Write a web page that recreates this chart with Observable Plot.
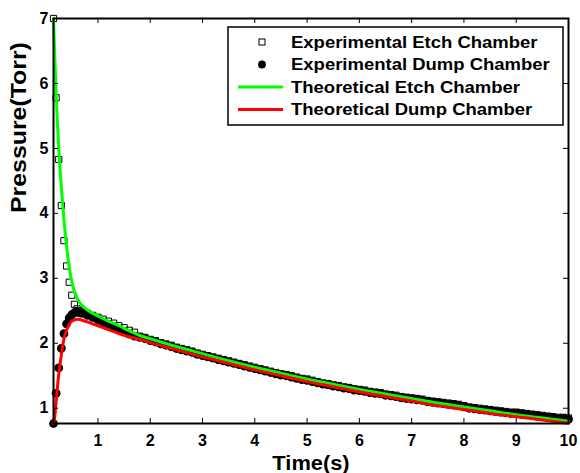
<!DOCTYPE html>
<html>
<head>
<meta charset="utf-8">
<script src="https://cdn.jsdelivr.net/npm/d3@7"></script>
<script src="https://cdn.jsdelivr.net/npm/@observablehq/plot@0.6"></script>
<style>
  body { margin: 0; background: #fff; }
  #wrap { position: relative; width: 580px; height: 473px; overflow: hidden; }
  #wrap svg.overlay { position: absolute; left: 0; top: 0; pointer-events: none; }
</style>
</head>
<body>
<div id="wrap"></div>
<script>
// ---- data ----
const xTicks = [1, 2, 3, 4, 5, 6, 7, 8, 9, 10];
const yTicks = [1, 2, 3, 4, 5, 6, 7];

const expTime = [
  0.15, 0.2, 0.25, 0.3, 0.35, 0.4, 0.45, 0.5, 0.55, 0.6, 0.65, 0.7,
  0.8, 0.9, 1.0, 1.1, 1.2, 1.3, 1.4, 1.5, 1.6, 1.7, 1.8, 1.9,
  2.0, 2.1, 2.2, 2.3, 2.4, 2.5, 2.6, 2.7, 2.8, 2.9,
  3.0, 3.1, 3.2, 3.3, 3.4, 3.5, 3.6, 3.7, 3.8, 3.9,
  4.0, 4.1, 4.2, 4.3, 4.4, 4.5, 4.6, 4.7, 4.8, 4.9,
  5.0, 5.1, 5.2, 5.3, 5.4, 5.5, 5.6, 5.7, 5.8, 5.9,
  6.0, 6.1, 6.2, 6.3, 6.4, 6.5, 6.6, 6.7, 6.8, 6.9,
  7.0, 7.1, 7.2, 7.3, 7.4, 7.5, 7.6, 7.7, 7.8, 7.9,
  8.0, 8.1, 8.2, 8.3, 8.4, 8.5, 8.6, 8.7, 8.8, 8.9,
  9.0, 9.1, 9.2, 9.3, 9.4, 9.5, 9.6, 9.7, 9.8, 9.9,
  10.0
];
const expEtch = [
  7.00, 5.78, 4.83, 4.12, 3.58, 3.19, 2.94, 2.74, 2.60, 2.53, 2.50, 2.48,
  2.46, 2.43, 2.40, 2.37, 2.34, 2.31, 2.27, 2.24, 2.20, 2.17, 2.11, 2.09,
  2.06, 2.04, 2.01, 1.99, 1.97, 1.94, 1.92, 1.90, 1.88, 1.85,
  1.83, 1.81, 1.79, 1.77, 1.75, 1.73, 1.71, 1.69, 1.67, 1.65,
  1.63, 1.61, 1.59, 1.57, 1.55, 1.53, 1.52, 1.50, 1.48, 1.46,
  1.45, 1.43, 1.41, 1.39, 1.38, 1.36, 1.35, 1.33, 1.32, 1.30,
  1.29, 1.28, 1.26, 1.25, 1.24, 1.22, 1.21, 1.20, 1.18, 1.17,
  1.16, 1.15, 1.14, 1.12, 1.11, 1.10, 1.09, 1.08, 1.07, 1.06,
  1.04, 1.02, 1.01, 1.00, 0.99, 0.98, 0.97, 0.96, 0.95, 0.94,
  0.94, 0.93, 0.92, 0.91, 0.90, 0.89, 0.88, 0.87, 0.86, 0.86,
  0.85
];
const expDump = [
  0.765, 1.23, 1.62, 1.92, 2.15, 2.30, 2.39, 2.44, 2.47, 2.48, 2.47, 2.46,
  2.43, 2.40, 2.36, 2.32, 2.29, 2.25, 2.21, 2.18, 2.14, 2.11, 2.09, 2.07,
  2.04, 2.02, 1.99, 1.97, 1.95, 1.92, 1.90, 1.88, 1.86, 1.83,
  1.81, 1.79, 1.77, 1.75, 1.73, 1.71, 1.69, 1.67, 1.65, 1.63,
  1.61, 1.59, 1.57, 1.55, 1.53, 1.51, 1.50, 1.48, 1.46, 1.44,
  1.43, 1.41, 1.39, 1.37, 1.36, 1.34, 1.33, 1.31, 1.30, 1.28,
  1.27, 1.26, 1.24, 1.23, 1.22, 1.20, 1.19, 1.18, 1.16, 1.15,
  1.14, 1.13, 1.12, 1.10, 1.09, 1.08, 1.07, 1.06, 1.05, 1.04,
  1.02, 1.00, 0.99, 0.98, 0.97, 0.96, 0.95, 0.94, 0.93, 0.92,
  0.92, 0.91, 0.90, 0.89, 0.88, 0.87, 0.86, 0.85, 0.84, 0.84,
  0.83
];

const thTime = [0.15, 0.175, 0.2, 0.225, 0.25, 0.275, 0.3, 0.35, 0.4, 0.45, 0.5, 0.55, 0.6, 0.65, 0.7,
  0.8, 0.9, 1.0, 1.2, 1.4, 1.6, 1.8, 2.0, 2.5, 3.0, 3.5, 4.0, 4.5, 5.0, 5.5, 6.0, 6.5, 7.0, 7.5, 8.0, 8.5, 9.0, 9.5, 10.0];
const thEtch = [7.0, 6.4, 5.85, 5.4, 5.0, 4.68, 4.4, 3.9, 3.5, 3.17, 2.95, 2.8, 2.7, 2.63, 2.58,
  2.51, 2.46, 2.42, 2.34, 2.27, 2.19, 2.12, 2.07, 1.95, 1.84, 1.73, 1.63, 1.54, 1.45, 1.37, 1.29, 1.22, 1.15, 1.08, 1.02, 0.96, 0.90, 0.85, 0.80];
const thDump = [0.765, 0.88, 1.1, 1.32, 1.52, 1.68, 1.82, 2.07, 2.2, 2.29, 2.34, 2.36, 2.37, 2.365, 2.355,
  2.33, 2.30, 2.27, 2.21, 2.15, 2.10, 2.06, 2.01, 1.90, 1.79, 1.69, 1.59, 1.50, 1.41, 1.33, 1.25, 1.18, 1.11, 1.04, 0.98, 0.92, 0.87, 0.82, 0.77];

const legendLabels = ["Experimental Etch Chamber", "Experimental Dump Chamber", "Theoretical Etch Chamber", "Theoretical Dump Chamber"];
const xLabel = "Time(s)";
const yLabel = "Pressure(Torr)";
const etchColor = "#00ff00";
const dumpColor = "#ff0000";

// ---- build tables ----
const expData = expTime.map((t, i) => ({t, etch: expEtch[i], dump: expDump[i]}));
const thData = thTime.map((t, i) => ({t, etch: thEtch[i], dump: thDump[i]}));

const W = 580, H = 473;
const mL = 53, mR = 12, mT = 18, mB = 50;
const innerW = W - mL - mR, innerH = H - mT - mB;
const tickLen = 5;
const FONT = '"Liberation Sans", Arial, Helvetica, sans-serif';

const chart = Plot.plot({
  width: W, height: H,
  marginLeft: mL, marginRight: mR, marginTop: mT, marginBottom: mB,
  style: {fontFamily: FONT, fontWeight: "bold", background: "#fff", color: "#000", overflow: "visible"},
  x: {domain: [0.15, 10]},
  y: {domain: [0.765, 7]},
  marks: [
    Plot.dot(expData, {x: "t", y: "etch", symbol: "square", r: 3.5, stroke: "#000", strokeWidth: 1, fill: "none"}),
    Plot.dot(expData, {x: "t", y: "dump", symbol: "circle", r: 4.4, fill: "#000", stroke: "none"}),
    Plot.line(thData, {x: "t", y: "etch", stroke: etchColor, strokeWidth: 3, curve: "monotone-x"}),
    Plot.line(thData, {x: "t", y: "dump", stroke: dumpColor, strokeWidth: 3, curve: "monotone-x"}),
    // inward ticks on all four sides
    Plot.ruleX(xTicks, {x: d => d, insetTop: innerH - tickLen, stroke: "#000", strokeWidth: 1}),
    Plot.ruleX(xTicks, {x: d => d, insetBottom: innerH - tickLen, stroke: "#000", strokeWidth: 1}),
    Plot.ruleY(yTicks, {y: d => d, insetRight: innerW - tickLen, stroke: "#000", strokeWidth: 1}),
    Plot.ruleY(yTicks, {y: d => d, insetLeft: innerW - tickLen, stroke: "#000", strokeWidth: 1}),
    Plot.frame({stroke: "#000", strokeWidth: 2}),
    Plot.axisX({ticks: xTicks, tickSize: 0, tickPadding: 11, label: null, fontSize: 16, fontWeight: "bold", tickFormat: d => String(d)}),
    Plot.axisY({ticks: yTicks, tickSize: 0, tickPadding: 5, label: null, fontSize: 16, fontWeight: "bold", tickFormat: d => String(d)}),
    Plot.text([xLabel], {frameAnchor: "bottom", dy: 40, fontSize: 21, fontWeight: "bold", lineAnchor: "middle", fill: "#000"}),
    Plot.text([yLabel], {frameAnchor: "left", dx: -35, dy: -8, rotate: -90, fontSize: 22, fontWeight: "bold", lineAnchor: "middle", fill: "#000"})
  ]
});
document.getElementById("wrap").appendChild(chart);

// widen the axis titles a little (the reference face is broader than Liberation Sans)
const stretch = (el, factor) => {
  const len = el.getComputedTextLength();
  el.setAttribute("textLength", (len * factor).toFixed(1));
  el.setAttribute("lengthAdjust", "spacingAndGlyphs");
};
chart.querySelectorAll("text").forEach(t => {
  if (t.textContent === xLabel) stretch(t, 1.04);
  if (t.textContent === yLabel) stretch(t, 1.13);
});

// ---- legend (inside the axes, top right) ----
const lg = d3.select("#wrap").append("svg")
  .attr("class", "overlay").attr("width", W).attr("height", H);
const box = {x: 228, y: 27, w: 335, h: 98};
lg.append("rect").attr("x", box.x).attr("y", box.y).attr("width", box.w).attr("height", box.h)
  .attr("fill", "#fff").attr("stroke", "#000").attr("stroke-width", 1.5);
const rowY = i => box.y + 15 + 22.5 * i;
const symX = box.x + 34, lineX0 = box.x + 10, lineX1 = box.x + 55, textX = box.x + 63;
legendLabels.forEach((lab, i) => {
  const y = rowY(i);
  if (i === 0) {
    lg.append("rect").attr("x", symX - 3).attr("y", y - 3).attr("width", 6).attr("height", 6)
      .attr("fill", "none").attr("stroke", "#000").attr("stroke-width", 1);
  } else if (i === 1) {
    lg.append("circle").attr("cx", symX).attr("cy", y).attr("r", 3.9).attr("fill", "#000");
  } else {
    lg.append("line").attr("x1", lineX0).attr("x2", lineX1).attr("y1", y).attr("y2", y)
      .attr("stroke", i === 2 ? etchColor : dumpColor).attr("stroke-width", 3);
  }
  const tx = lg.append("text").attr("x", textX).attr("y", y).attr("dy", "0.36em")
    .attr("font-family", FONT).attr("font-weight", "bold").attr("font-size", 16.5)
    .attr("fill", "#000").text(lab);
  stretch(tx.node(), 1.12);
});
</script>
</body>
</html>
